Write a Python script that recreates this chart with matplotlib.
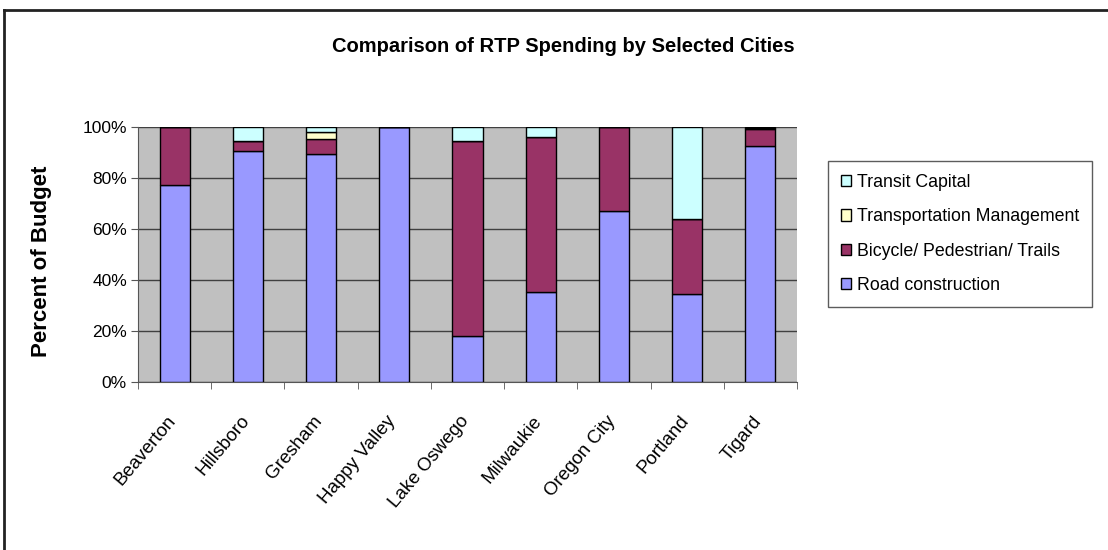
import numpy as np
import matplotlib.pyplot as plt
import matplotlib.transforms as mtransforms
from matplotlib.lines import Line2D

plt.rcParams['font.family'] = ['Liberation Sans', 'DejaVu Sans']

cities = ['Beaverton', 'Hillsboro', 'Gresham', 'Happy Valley', 'Lake Oswego',
          'Milwaukie', 'Oregon City', 'Portland', 'Tigard']
# shares of budget, fractions
road = [0.771, 0.905, 0.893, 1.0, 0.179, 0.352, 0.672, 0.345, 0.925]
bike = [0.229, 0.040, 0.060, 0.0, 0.765, 0.607, 0.328, 0.293, 0.067]
mgmt = [0.0, 0.0, 0.029, 0.0, 0.0, 0.0, 0.0, 0.0, 0.004]
transit = [0.0, 0.055, 0.018, 0.0, 0.056, 0.041, 0.0, 0.362, 0.004]

series = [
    ('Road construction', road, '#9999FF'),
    ('Bicycle/ Pedestrian/ Trails', bike, '#993366'),
    ('Transportation Management', mgmt, '#FFFFCC'),
    ('Transit Capital', transit, '#CCFFFF'),
]

fig = plt.figure(figsize=(11.08, 5.5), dpi=100)
ax = fig.add_axes([138 / 1108, 1 - 382 / 550, 659 / 1108, 255 / 550])
ax.set_facecolor('#C0C0C0')

x = np.arange(len(cities))
bottom = np.zeros(len(cities))
handles = []
for name, vals, color in series:
    vals = np.array(vals)
    b = ax.bar(x, vals, 0.41, bottom=bottom, color=color, edgecolor='black',
               linewidth=1, label=name, zorder=3)
    handles.append(b)
    bottom += vals

ax.set_xlim(-0.5, len(cities) - 0.5)
ax.set_ylim(0, 1)
yt = np.arange(0, 1.01, 0.2)
ax.set_yticks(yt)
ax.set_yticklabels([f'{int(round(v * 100))}%' for v in yt], fontsize=12.5)
ax.yaxis.grid(True, color='#404040', linewidth=1, zorder=1)
ax.set_axisbelow(True)

ax.set_xticks(x)
ax.set_xticklabels(cities, rotation=50, ha='right', rotation_mode='anchor',
                   fontsize=13.5)
ax.tick_params(axis='x', length=0, pad=22)
# nudge the slanted labels a little to the left
shift = mtransforms.ScaledTranslation(-8 / 100, 0, fig.dpi_scale_trans)
for lbl in ax.get_xticklabels():
    lbl.set_transform(lbl.get_transform() + shift)
ax.set_xticks(np.arange(-0.5, len(cities)), minor=True)
ax.tick_params(axis='x', which='minor', length=5, color='#555555')
ax.tick_params(axis='y', length=5, color='#555555', pad=3)

for side in ['top', 'right']:
    ax.spines[side].set_visible(False)
ax.spines['left'].set_color('#555555')
ax.spines['bottom'].set_color('#555555')

fig.text(42 / 1108, 1 - 261 / 550, 'Percent of Budget', rotation=90,
         ha='center', va='center', fontsize=16, fontweight='bold')
fig.text(563 / 1108, 1 - 47 / 550, 'Comparison of RTP Spending by Selected Cities',
         ha='center', va='center', fontsize=14.5, fontweight='bold')

leg = fig.legend(handles[::-1], [s[0] for s in series][::-1],
                 loc='upper left', bbox_to_anchor=(828 / 1108, 1 - 161 / 550),
                 fontsize=12.8, frameon=True, fancybox=False, edgecolor='#333333',
                 handlelength=0.6, handleheight=0.6, handletextpad=0.3,
                 labelspacing=0.98, borderpad=0.72, borderaxespad=0)
leg.get_frame().set_linewidth(1)

# chart border: top and left edges only
fig.add_artist(Line2D([4 / 1108, 1], [1 - 10 / 550, 1 - 10 / 550],
                      transform=fig.transFigure, color='#222222', linewidth=2))
fig.add_artist(Line2D([4 / 1108, 4 / 1108], [0, 1 - 10 / 550],
                      transform=fig.transFigure, color='#222222', linewidth=2))

fig.savefig('out.png', dpi=100)
